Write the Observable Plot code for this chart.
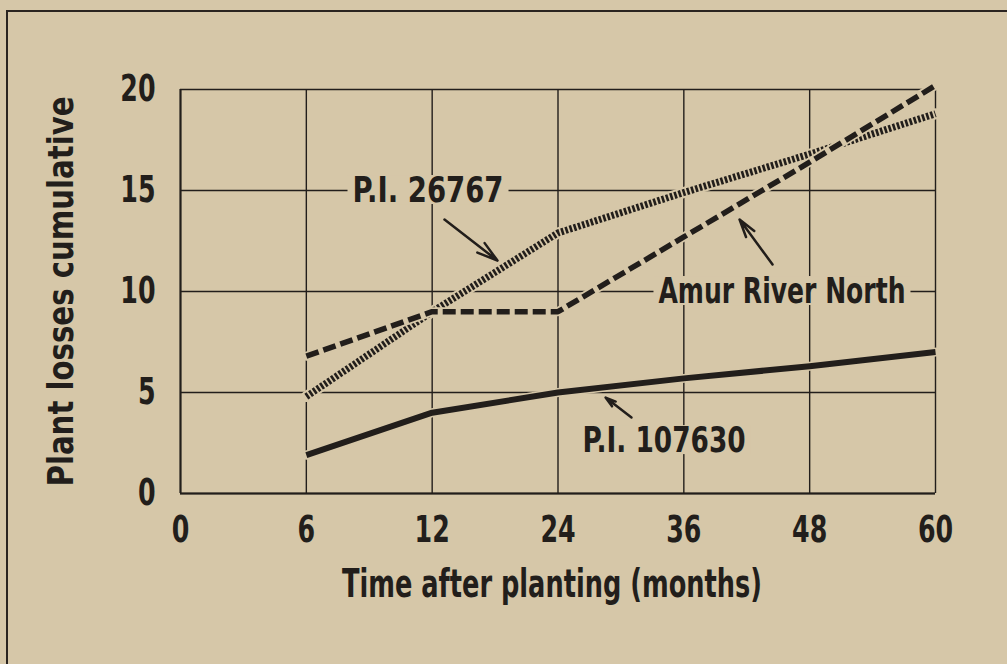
<!DOCTYPE html>
<html><head><meta charset="utf-8">
<script src="https://cdn.jsdelivr.net/npm/d3@7"></script>
<script src="https://cdn.jsdelivr.net/npm/@observablehq/plot@0.6"></script>
<style>
html,body{margin:0;padding:0;background:#d6c7a8;}
#wrap{position:relative;width:1007px;height:664px;overflow:hidden;}
#border{position:absolute;left:6px;top:10px;right:-5px;bottom:-5px;border-left:2px solid #2a2420;border-top:2px solid #2a2420;pointer-events:none;}
</style></head><body><div id="wrap"><div id="border"></div></div>
<script>
// ---- data ----
const xTickLabels = ["0", "6", "12", "24", "36", "48", "60"];
const months = [6, 12, 24, 36, 48, 60];
const yTicks = [0, 5, 10, 15, 20];
const pi107630 = [1.9, 4.0, 5.0, 5.7, 6.3, 7.0];
const amurRiverNorth = [6.8, 9.0, 9.0, 12.7, 16.4, 20.2];
const pi26767 = [4.8, 9.0, 12.9, 14.9, 16.8, 18.8];

const xLabel = "Time after planting (months)";
const yLabel = "Plant losses cumulative";

// annotation labels (positions in data units; x is tick index)
const annoText = ["P.I. 26767", "Amur River North", "P.I. 107630"];
const annoX = [1.967, 4.78, 3.843];
const annoY = [15, 10, 2.62];
const arrowX1 = [2.098, 4.705, 3.584];
const arrowY1 = [13.56, 11.34, 3.76];
const arrowX2 = [2.519, 4.443, 3.378];
const arrowY2 = [11.53, 13.56, 4.75];

// ---- build tables ----
const xi = m => xTickLabels.indexOf(String(m));
const mk = (vals) => months.map((m, i) => ({x: xi(m), y: vals[i]}));
const solid = mk(pi107630), dashed = mk(amurRiverNorth), dotted = mk(pi26767);
const annos = annoText.map((t, i) => ({t, x: annoX[i], y: annoY[i]}));
const arrows = arrowX1.map((d, i) => ({x1: arrowX1[i], y1: arrowY1[i], x2: arrowX2[i], y2: arrowY2[i]}));

const BG = "#d6c7a8", INK = "#221e1b";
const FONT = "'Liberation Sans Narrow', 'DejaVu Sans Condensed', 'Arial Narrow', sans-serif";

const chart = Plot.plot({
  width: 1007,
  height: 664,
  marginLeft: 180,
  marginRight: 72,
  marginTop: 89,
  marginBottom: 171,
  style: {background: BG, fontFamily: FONT, fontWeight: "bold", color: INK},
  x: {type: "linear", domain: [0, xTickLabels.length - 1]},
  y: {type: "linear", domain: [0, 20]},
  marks: [
    Plot.ruleX(d3.range(xTickLabels.length), {stroke: INK, strokeWidth: 1.4, strokeOpacity: 1}),
    Plot.ruleY(yTicks, {stroke: INK, strokeWidth: 1.4, strokeOpacity: 1}),
    Plot.ruleX([0], {stroke: INK, strokeWidth: 2}),
    Plot.ruleY([0], {stroke: INK, strokeWidth: 2}),
    Plot.axisY({ticks: yTicks, tickSize: 0, tickPadding: 25, fontSize: 37, fontWeight: "bold", fill: INK, label: null}),
    Plot.axisX({ticks: d3.range(xTickLabels.length), tickFormat: i => xTickLabels[i], tickSize: 0, tickPadding: 22, fontSize: 37, fontWeight: "bold", fill: INK, label: null}),
    // halos + lines
    Plot.line(dotted, {x: "x", y: "y", stroke: BG, strokeWidth: 11}),
    Plot.line(dotted, {x: "x", y: "y", stroke: INK, strokeWidth: 7, strokeDasharray: "2.6,1.8", strokeLinecap: "butt"}),
    Plot.line(dashed, {x: "x", y: "y", stroke: BG, strokeWidth: 9}),
    Plot.line(dashed, {x: "x", y: "y", stroke: INK, strokeWidth: 5.5, strokeDasharray: "13,5", strokeLinecap: "butt"}),
    Plot.line(solid, {x: "x", y: "y", stroke: BG, strokeWidth: 9}),
    Plot.line(solid, {x: "x", y: "y", stroke: INK, strokeWidth: 6, strokeLinecap: "butt"}),
    // annotations
    Plot.arrow(arrows, {x1: "x1", y1: "y1", x2: "x2", y2: "y2", stroke: INK, strokeWidth: 2.5, headLength: 13, headAngle: 32}),
    Plot.text(annos, {x: "x", y: "y", text: "t", fontSize: 36, fontWeight: "bold", fill: INK, lineAnchor: "middle"}),
    // axis titles
    Plot.text([xLabel], {frameAnchor: "bottom", dy: 91, dx: -6, fontSize: 39, fontWeight: "bold", fill: INK, lineAnchor: "middle"}),
    Plot.text([yLabel], {frameAnchor: "left", dx: -119, rotate: -90, textAnchor: "middle", fontSize: 36, fontWeight: "bold", fill: INK, lineAnchor: "middle"})
  ]
});
document.getElementById("wrap").insertBefore(chart, document.getElementById("border"));

// condense the text to mimic the narrow bold typeface of the original
const targetWidth = {};
targetWidth[xLabel] = 420;
targetWidth[yLabel] = 390;
targetWidth["P.I. 26767"] = 151;
targetWidth["Amur River North"] = 247;
targetWidth["P.I. 107630"] = 163;
chart.querySelectorAll("text").forEach(t => {
  const s = t.textContent;
  const w = t.getComputedTextLength();
  if (!w) return;
  const target = targetWidth[s] != null ? targetWidth[s] : w * 0.76;
  let bb = null;
  if (annoText.includes(s)) bb = t.getBBox();
  t.setAttribute("textLength", target);
  t.setAttribute("lengthAdjust", "spacingAndGlyphs");
  // background box behind the annotation labels (they interrupt the grid)
  if (bb) {
    const cx = bb.x + bb.width / 2;
    const r = document.createElementNS("http://www.w3.org/2000/svg", "rect");
    r.setAttribute("x", cx - target / 2 - 5);
    r.setAttribute("y", bb.y + 6);
    r.setAttribute("width", target + 10);
    r.setAttribute("height", bb.height - 12);
    r.setAttribute("fill", BG);
    if (t.getAttribute("transform")) r.setAttribute("transform", t.getAttribute("transform"));
    t.parentNode.insertBefore(r, t);
  }
});
</script>
</body></html>
